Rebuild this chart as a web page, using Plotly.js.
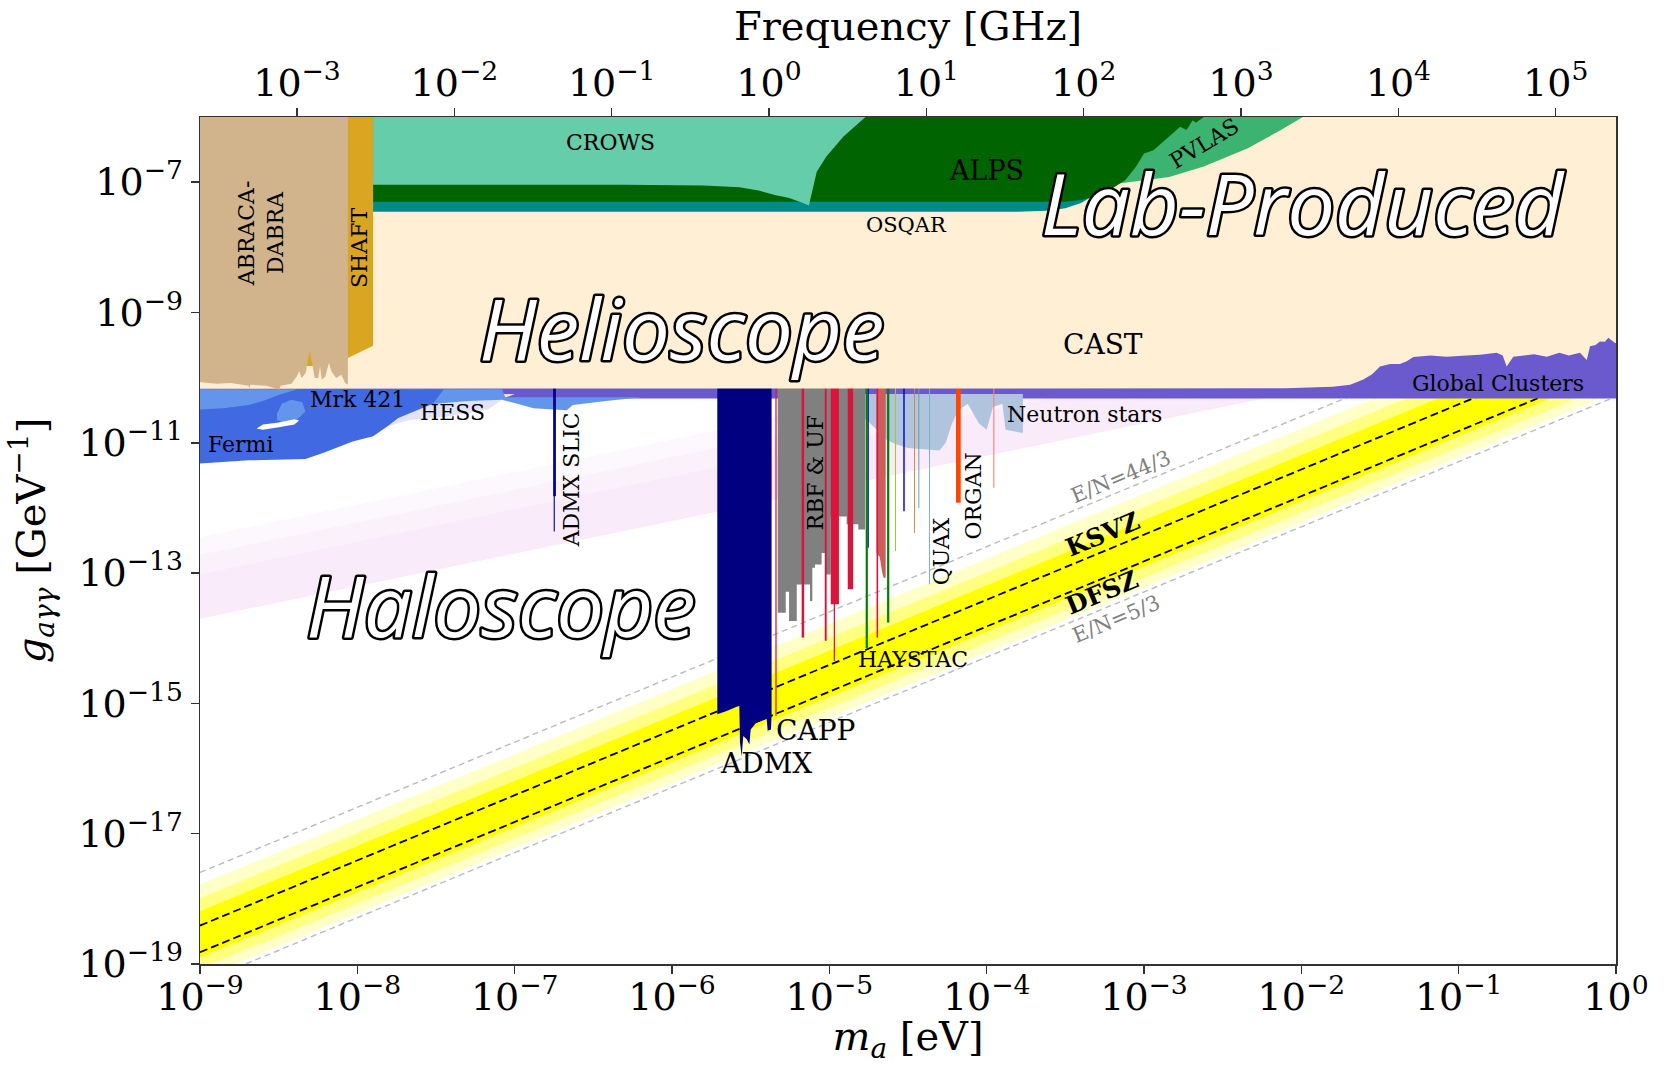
<!DOCTYPE html>
<html>
<head>
<meta charset="utf-8">
<script src="https://cdn.plot.ly/plotly-3.0.1.min.js"></script>
<style>html,body{margin:0;padding:0;background:#fff}#chart{width:1669px;height:1065px}</style>
</head>
<body>
<div id="chart"></div>
<script>
// ---------- axis ticks ----------
const GHZ_PER_EV = 241798.9;
const massTickVals = [1e-9,1e-8,1e-7,1e-6,1e-5,1e-4,1e-3,1e-2,1e-1,1];
const massTickText = ['10<sup>−9</sup>','10<sup>−8</sup>','10<sup>−7</sup>','10<sup>−6</sup>','10<sup>−5</sup>','10<sup>−4</sup>','10<sup>−3</sup>','10<sup>−2</sup>','10<sup>−1</sup>','10<sup>0</sup>'];
const freqTickVals = [1e-3,1e-2,1e-1,1,1e1,1e2,1e3,1e4,1e5];
const freqTickText = ['10<sup>−3</sup>','10<sup>−2</sup>','10<sup>−1</sup>','10<sup>0</sup>','10<sup>1</sup>','10<sup>2</sup>','10<sup>3</sup>','10<sup>4</sup>','10<sup>5</sup>'];
const couplingTickVals = [1e-19,1e-17,1e-15,1e-13,1e-11,1e-9,1e-7];
const couplingTickText = ['10<sup>−19</sup>','10<sup>−17</sup>','10<sup>−15</sup>','10<sup>−13</sup>','10<sup>−11</sup>','10<sup>−9</sup>','10<sup>−7</sup>'];

// ---------- data: log10(m_a / eV) and log10(g / GeV^-1) ----------
// QCD axion band
const bandM = [-9, 0, 0, -9];
const bandPaleG = [-17.78, -8.78, -10.22, -19.22];
const bandLightG = [-17.99, -8.99, -10.07, -19.07];
const bandBrightG = [-18.19, -9.19, -9.90, -18.90];
const modelLineM = [-9, 0];
const en44G = [-17.595, -8.595];
const ksvzG = [-18.41, -9.41];
const dfszG = [-18.82, -9.82];
const en53G = [-19.29, -10.29];

// faint neutron-star bands
const nsBandM = [-9, -2, -2, -9];
const nsBand1G = [-12.45, -8.95, -10.20, -13.70];
const nsBand2G = [-12.72, -9.22, -10.20, -13.70];
const nsBand3G = [-13.02, -9.52, -10.20, -13.70];

// Global clusters
const gcM = [-9, 0, 0, -9];
const gcG = [-6, -6, -10.32, -10.32];

// Astrophysical (gamma-ray)
const hessM = [-7.90, -7.00, -7.06, -7.17, -7.30, -7.44, -7.67, -7.81, -7.90];
const hessG = [-10.25, -10.25, -10.31, -10.49, -10.55, -10.60, -10.65, -10.75, -10.70];
const cornM = [-7.75, -7.08, -7.06, -6.19, -6.42, -6.63, -6.67, -6.74, -6.88, -7.08, -7.30, -7.50, -7.62];
const cornG = [-10.18, -10.18, -10.30, -10.30, -10.36, -10.42, -10.50, -10.49, -10.47, -10.34, -10.36, -10.40, -10.45];
const fermiM = [-9, -7.45, -7.52, -7.62, -7.74, -7.81, -7.90, -8.03, -8.21, -8.33, -8.69, -9];
const fermiG = [-10.18, -10.18, -10.40, -10.50, -10.62, -10.75, -10.90, -10.98, -11.15, -11.25, -11.27, -11.32];
const mrkM = [-9, -8.38, -8.49, -8.60, -8.69, -8.85, -9];
const mrkG = [-10.18, -10.18, -10.26, -10.36, -10.42, -10.47, -10.49];
const fermiIslandM = [-8.51, -8.48, -8.42, -8.35, -8.33, -8.38, -8.46, -8.51];
const fermiIslandG = [-10.55, -10.40, -10.34, -10.38, -10.52, -10.64, -10.70, -10.65];
const fermiHoleM = [-8.64, -8.60, -8.50, -8.40, -8.37, -8.40, -8.50, -8.60];
const fermiHoleG = [-10.78, -10.72, -10.69, -10.64, -10.66, -10.72, -10.76, -10.80];

// Neutron stars
const nstarM = [-4.80, -3.77, -3.77, -3.88, -3.90, -3.96, -4.00, -4.05, -4.12, -4.18, -4.22, -4.26, -4.30, -4.40, -4.50, -4.58, -4.64, -4.70, -4.74, -4.79];
const nstarG = [-10.25, -10.25, -10.85, -10.80, -10.40, -10.45, -10.80, -10.70, -10.40, -10.50, -10.70, -11.00, -11.12, -11.10, -11.08, -11.02, -10.95, -10.80, -10.70, -10.60];

// Haloscopes
const haloTopG = -10.1;
const rbfM = [-5.328, -4.773, -4.773, -4.816, -4.816, -4.890, -4.890, -4.991, -4.991, -5.027, -5.027, -5.049, -5.049, -5.091, -5.091, -5.108, -5.108, -5.123, -5.123, -5.207, -5.207, -5.256, -5.256, -5.277, -5.277, -5.328];
const rbfG = [-10.1, -10.1, -12.33, -12.33, -12.25, -12.25, -12.13, -12.13, -13.02, -13.02, -12.69, -12.69, -12.87, -12.87, -12.92, -12.92, -13.43, -13.43, -13.175, -13.175, -13.737, -13.737, -13.287, -13.287, -13.609, -13.609];
const admxM = [-5.712, -5.367, -5.367, -5.371, -5.392, -5.398, -5.466, -5.500, -5.508, -5.525, -5.547, -5.557, -5.568, -5.572, -5.589, -5.652, -5.712];
const admxG = [-10.1, -10.1, -15.19, -15.40, -15.42, -15.24, -15.30, -15.40, -15.63, -15.55, -15.50, -15.81, -15.60, -15.04, -15.05, -15.117, -15.168];
const indianRedM = [-4.700, -4.642, -4.642, -4.655, -4.665, -4.680, -4.700];
const indianRedG = [-10.1, -10.1, -13.07, -13.07, -12.98, -12.75, -12.70];
const stripM0 = [-5.343, -5.176, -5.029, -4.991, -4.972, -4.883, -4.700, -4.769, -4.755, -4.633, -4.583, -4.530, -4.462, -4.434, -4.366, -4.195, -3.958, -6.755, -6.752];
const stripM1 = [-5.335, -5.160, -5.017, -4.939, -4.964, -4.849, -4.690, -4.755, -4.749, -4.619, -4.576, -4.521, -4.456, -4.428, -4.360, -4.165, -3.951, -6.738, -6.745];
const stripBottomG = [-15.19, -13.99, -14.04, -13.48, -14.35, -13.25, -13.99, -14.15, -12.61, -13.76, -12.66, -12.05, -12.38, -12.00, -13.17, -11.92, -11.69, -11.82, -12.36];
const stripColors = ['#DC143C','#DC143C','#DC143C','#DC143C','#DC143C','#DC143C','#DC143C','#008000','#0000CD','#008000','#9ACD32','#0000CD','#CD853F','#5F9EA0','#6FB5B5','#FF4500','#FA8072','#00008B','#00008B'];

// Helioscope
const castM = [-9, 0, 0, -0.006, -0.049, -0.07, -0.102, -0.13, -0.165, -0.186, -0.229, -0.30, -0.36, -0.44, -0.52, -0.60, -0.653, -0.695, -0.72, -0.758, -0.864, -0.95, -1.076, -1.18, -1.288, -1.33, -1.373, -1.436, -1.50, -1.55, -1.606, -1.69, -1.80, -2.10, -9];
const castG = [-6, -6, -9.47, -9.47, -9.39, -9.45, -9.445, -9.50, -9.52, -9.73, -9.62, -9.66, -9.62, -9.68, -9.64, -9.67, -9.68, -9.83, -9.66, -9.62, -9.65, -9.66, -9.68, -9.66, -9.684, -9.75, -9.79, -9.79, -9.83, -9.95, -10.03, -10.11, -10.14, -10.165, -10.17];

// Lab-produced / light shining through wall
const osqarM = [-7.90, -3.30, -3.33, -3.40, -3.50, -3.62, -3.80, -7.90];
const osqarG = [-7.00, -7.00, -7.22, -7.32, -7.40, -7.44, -7.455, -7.455];
const pvlasM = [-3.30, -1.99, -2.13, -2.34, -2.62, -2.84, -3.16, -3.30];
const pvlasG = [-6, -6, -6.20, -6.48, -6.76, -6.92, -7.02, -7.05];
const alpsM = [-7.90, -2.62, -2.67, -2.69, -2.73, -2.77, -2.84, -2.94, -3.00, -3.05, -3.12, -3.25, -3.39, -3.50, -7.90];
const alpsG = [-6, -6, -6.09, -6.05, -6.20, -6.15, -6.30, -6.51, -6.56, -6.76, -6.97, -7.17, -7.27, -7.30, -7.30];
const crowsM = [-7.90, -4.77, -4.91, -5.02, -5.08, -5.10, -5.13, -5.18, -5.26, -5.34, -5.45, -5.57, -5.80, -6.30, -7.90];
const crowsG = [-6, -6, -6.30, -6.61, -6.84, -7.07, -7.36, -7.31, -7.24, -7.20, -7.13, -7.08, -7.05, -7.04, -7.04];
const shaftM = [-8.33, -7.90, -7.90, -8.06, -8.25, -8.27, -8.33];
const shaftG = [-6, -6, -9.51, -9.70, -9.72, -9.82, -9.82];
const abraM = [-9, -8.060, -8.060, -8.078, -8.101, -8.135, -8.165, -8.181, -8.203, -8.226, -8.237, -8.249, -8.271, -8.287, -8.301, -8.314, -8.328, -8.355, -8.369, -8.385, -8.419, -8.487, -8.498, -8.578, -8.680, -8.687, -8.691, -8.805, -8.896, -8.991, -9];
const abraG = [-6, -6, -10.108, -10.083, -9.955, -10.006, -9.904, -9.776, -9.981, -10.032, -9.827, -10.006, -10.006, -9.776, -9.598, -9.725, -9.93, -10.006, -9.904, -9.981, -10.093, -10.124, -10.185, -10.124, -10.108, -10.175, -10.124, -10.083, -10.093, -10.073, -10.073];

// ---------- build traces ----------
const p10 = v => Math.pow(10, v);
const traces = [];
function region(m, g, color) {
  traces.push({type:'scatter', mode:'lines', x:m.map(p10), y:g.map(p10), fill:'toself',
    fillcolor:color, line:{width:0, color:color}, hoverinfo:'skip', showlegend:false});
}
function dashed(m, g, color, width, dash) {
  traces.push({type:'scatter', mode:'lines', x:m.map(p10), y:g.map(p10),
    line:{color:color, width:width, dash:dash}, hoverinfo:'skip', showlegend:false});
}

region(bandM, bandPaleG, '#FFFFC8');
region(bandM, bandLightG, '#FFFF80');
region(bandM, bandBrightG, '#FFFF00');
dashed(modelLineM, en44G, '#BBBBBB', 1.4, '6px,4px');
dashed(modelLineM, en53G, '#BBBBBB', 1.4, '6px,4px');
dashed(modelLineM, ksvzG, '#000000', 1.8, '8px,4px');
dashed(modelLineM, dfszG, '#000000', 1.8, '8px,4px');

region(nsBandM, nsBand1G, 'rgba(221,160,221,0.07)');
region(nsBandM, nsBand2G, 'rgba(221,160,221,0.07)');
region(nsBandM, nsBand3G, 'rgba(221,160,221,0.07)');

region(gcM, gcG, '#6A5ACD');
region(hessM, hessG, '#E3E3F8');
region(cornM, cornG, '#6495ED');
region(fermiM, fermiG, '#4169E1');
region(mrkM, mrkG, '#6495ED');
region(fermiIslandM, fermiIslandG, '#6495ED');
region(fermiHoleM, fermiHoleG, '#FFFFFF');
region(nstarM, nstarG, '#B0C4DE');

region(rbfM, rbfG, '#808080');
region(admxM, admxG, '#000080');
region(indianRedM, indianRedG, '#CD5C5C');
for (let i = 0; i < stripM0.length; i++) {
  region([stripM0[i], stripM1[i], stripM1[i], stripM0[i]],
         [haloTopG, haloTopG, stripBottomG[i], stripBottomG[i]], stripColors[i]);
}

region(castM, castG, '#FFEFD5');
region(osqarM, osqarG, '#008B8B');
region(pvlasM, pvlasG, '#3CB371');
region(alpsM, alpsG, '#006400');
region(crowsM, crowsG, '#66CDAA');
region(shaftM, shaftG, '#DAA520');
region(abraM, abraG, '#D2B48C');

// frequency axis carrier
traces.push({type:'scatter', mode:'markers', x:freqTickVals, y:freqTickVals.map(() => null),
  xaxis:'x2', yaxis:'y', marker:{opacity:0}, hoverinfo:'skip', showlegend:false});

// ---------- labels ----------
const SERIF = 'DejaVu Serif';
function label(text, m, g, size, extra) {
  return Object.assign({text:text, x:m, y:g, xref:'x', yref:'y', showarrow:false,
    xanchor:'center', yanchor:'middle', font:{family:SERIF, size:size, color:'#000'}}, extra || {});
}
function big(text, m, g) {
  return {text:text, x:m, y:g, xref:'x', yref:'y', showarrow:false, xanchor:'center', yanchor:'middle',
    font:{family:'Open Sans', size:85, color:'#FFFFFF', style:'italic'}};
}
const annotations = [
  label('CROWS', -6.394, -6.392, 22),
  label('ALPS', -4.0, -6.817, 27),
  label('PVLAS', -2.617, -6.404, 22, {textangle:-31}),
  label('OSQAR', -4.51, -7.65, 21),
  label('ABRACA-<br>DABRA', -8.61, -7.78, 22, {textangle:-90}),
  label('SHAFT', -7.983, -8.01, 22, {textangle:-90}),
  label('CAST', -3.263, -9.49, 28),
  label('Global Clusters', -0.747, -10.09, 22),
  label('Mrk 421', -7.998, -10.34, 22),
  label('HESS', -7.398, -10.53, 22),
  label('Fermi', -8.74, -11.03, 22),
  label('ADMX SLIC', -6.637, -11.565, 22, {textangle:-90}),
  label('RBF &amp; UF', -5.091, -11.47, 22, {textangle:-90}),
  label('QUAX', -4.282, -12.66, 22, {textangle:-90}),
  label('ORGAN', -4.085, -11.82, 22, {textangle:-90}),
  label('Neutron stars', -3.883, -10.57, 22, {xanchor:'left'}),
  label('HAYSTAC', -4.466, -14.32, 22),
  label('CAPP', -5.089, -15.41, 28),
  label('ADMX', -5.404, -15.92, 28),
  label('<b>KSVZ</b>', -3.264, -12.41, 25, {textangle:-22.5}),
  label('<b>DFSZ</b>', -3.264, -13.30, 25, {textangle:-22.5}),
  label('E/N=44/3', -3.149, -11.52, 21, {textangle:-22.5, font:{family:SERIF, size:21, color:'#808080'}}),
  label('E/N=5/3', -3.175, -13.70, 21, {textangle:-22.5, font:{family:SERIF, size:21, color:'#808080'}}),
  big('Helioscope', -5.94, -9.23),
  big('Lab-Produced', -1.99, -7.31),
  big('Haloscope', -7.09, -13.47)
];

const axisCommon = {
  type:'log', showgrid:false, zeroline:false, showline:true, linecolor:'#333', linewidth:1.5,
  ticks:'outside', ticklen:8, tickwidth:1.5, tickcolor:'#333',
  tickfont:{family:SERIF, size:38, color:'#000'}
};

const layout = {
  width:1669, height:1065,
  margin:{l:200, r:53, t:117, b:101},
  paper_bgcolor:'#FFFFFF', plot_bgcolor:'#FFFFFF',
  showlegend:false,
  xaxis: Object.assign({}, axisCommon, {
    range:[-9, 0], tickvals:massTickVals, ticktext:massTickText, ticklabelstandoff:-9,
    title:{text:'<i>m<sub>a</sub></i> [eV]', font:{family:SERIF, size:40, color:'#000'}, standoff:33}
  }),
  xaxis2: Object.assign({}, axisCommon, {
    overlaying:'x', side:'top', anchor:'y', ticklabelstandoff:-4,
    range:[Math.log10(1e-9 * GHZ_PER_EV), Math.log10(GHZ_PER_EV)],
    tickvals:freqTickVals, ticktext:freqTickText,
    title:{text:'Frequency [GHz]', font:{family:SERIF, size:40, color:'#000'}, standoff:2}
  }),
  yaxis: Object.assign({}, axisCommon, {
    range:[-19, -6], mirror:true, tickvals:couplingTickVals, ticktext:couplingTickText,
    title:{text:'<i>g<sub>aγγ</sub></i> [GeV<sup>−1</sup>]', font:{family:SERIF, size:40, color:'#000'}, standoff:20}
  }),
  annotations: annotations
};

Plotly.newPlot('chart', traces, layout, {staticPlot:true, displayModeBar:false}).then(gd => {
  gd.querySelectorAll('.annotation-text').forEach(t => {
    const s = t.textContent;
    if (s === 'Helioscope' || s === 'Haloscope' || s === 'Lab-Produced') {
      t.style.stroke = '#000';
      t.style.strokeWidth = '5px';
      t.style.strokeLinejoin = 'round';
      t.style.paintOrder = 'stroke';
    }
  });
});
</script>
</body>
</html>
